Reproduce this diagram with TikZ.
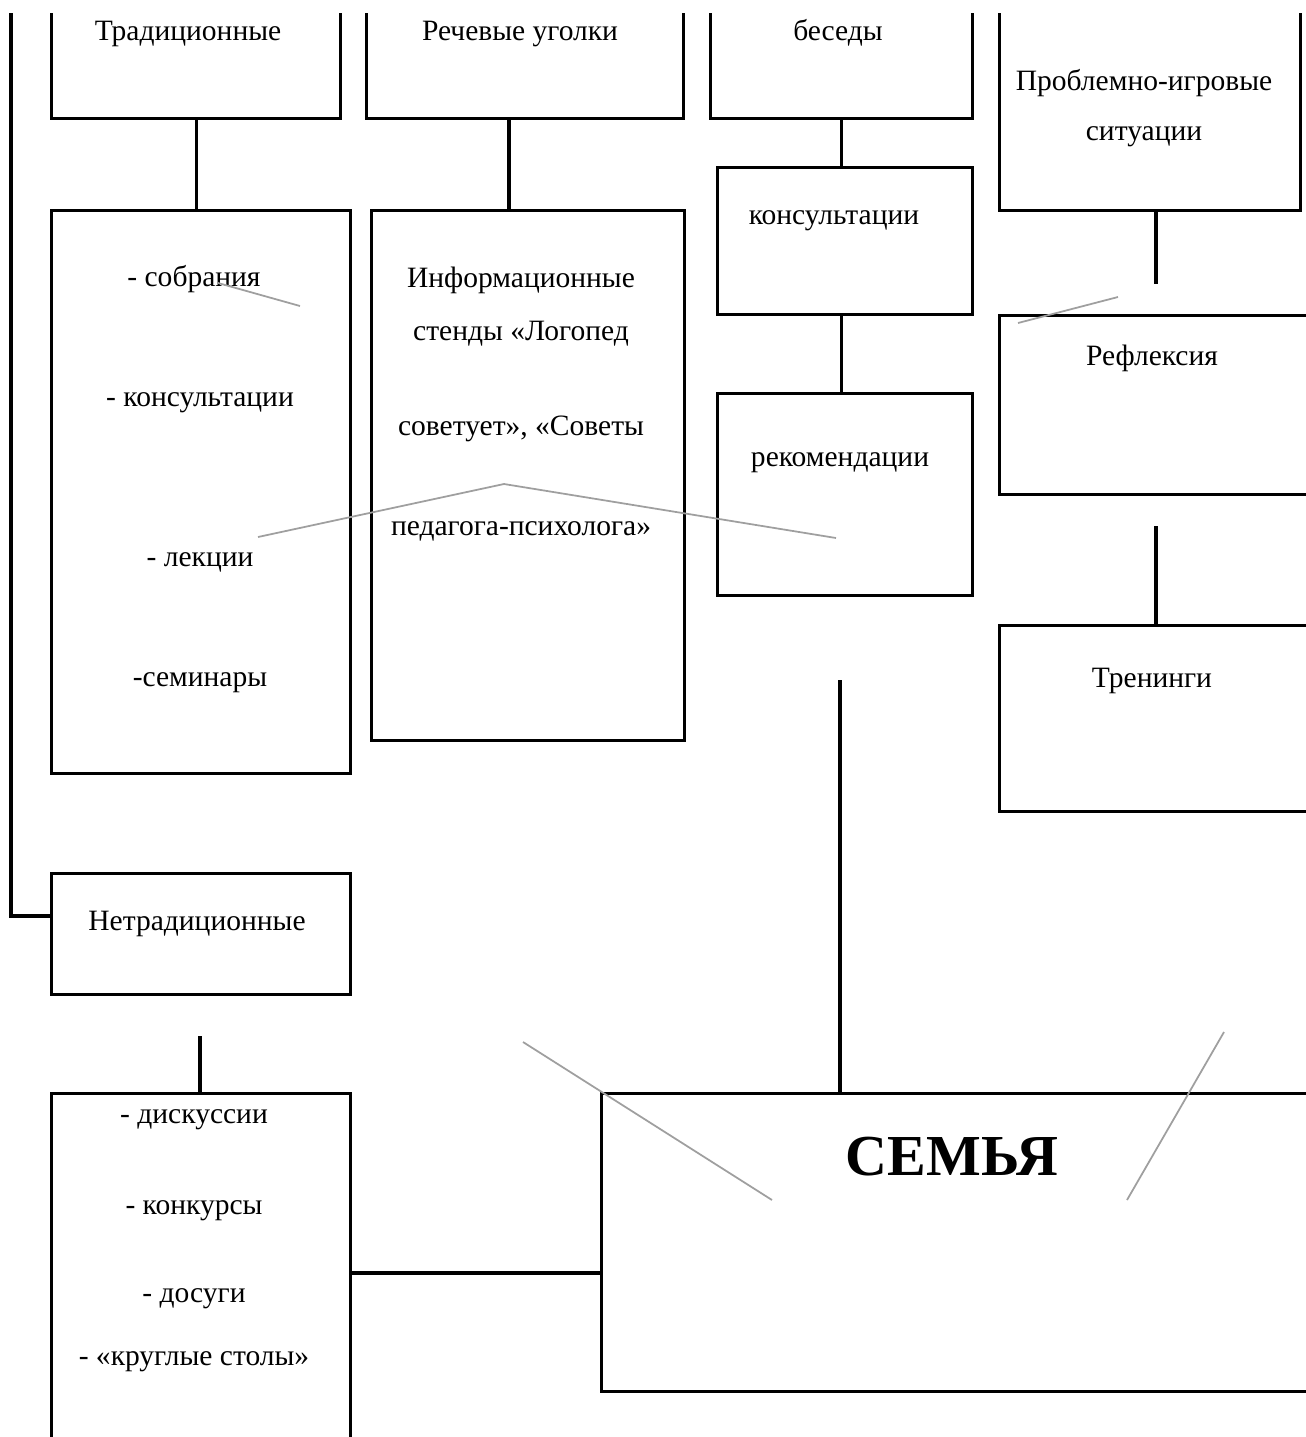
\documentclass[tikz,border=0pt]{standalone}
\usepackage{fontspec}
\setmainfont{Liberation Serif}
\usepackage{tikz}
\usetikzlibrary{calc}

\begin{document}
\begin{tikzpicture}[box/.style={draw, line width=0.95pt, inner sep=0pt, anchor=south west},
    conn/.style={line width=0.95pt},
    stray/.style={gray!75, line width=0.5pt},
    every node/.style={font=\fontsize{8.4}{10}\selectfont}]
    \useasboundingbox (0,0) rectangle (13.06,-14.37);
    \clip (0,-0.13) rectangle (13.06,-14.37); % the page edges cut the boxes

    % left column
    \node[box, minimum width=2.89cm, minimum height=1.40cm] (trad) at (0.50,-1.20) {};
    \node[box, minimum width=2.99cm, minimum height=5.63cm] (tradlist) at (0.50,-7.75) {};
    \node[box, minimum width=2.99cm, minimum height=1.21cm] (netrad) at (0.50,-9.96) {};
    \node[box, minimum width=2.99cm, minimum height=3.70cm] (netradlist) at (0.50,-14.65) {};
    % second column
    \node[box, minimum width=3.17cm, minimum height=1.40cm] (corner) at (3.65,-1.20) {};
    \node[box, minimum width=3.13cm, minimum height=5.30cm] (stands) at (3.70,-7.42) {};
    % third column
    \node[box, minimum width=2.62cm, minimum height=1.40cm] (talks) at (7.09,-1.20) {};
    \node[box, minimum width=2.55cm, minimum height=1.47cm] (consult) at (7.16,-3.16) {};
    \node[box, minimum width=2.55cm, minimum height=2.02cm] (advice) at (7.16,-5.97) {};
    % right column
    \node[box, minimum width=3.01cm, minimum height=2.32cm] (games) at (9.98,-2.12) {};
    \node[box, minimum width=3.40cm, minimum height=1.79cm] (reflex) at (9.98,-4.96) {};
    \node[box, minimum width=3.40cm, minimum height=1.86cm] (training) at (9.98,-8.13) {};
    % family
    \node[box, minimum width=7.40cm, minimum height=2.98cm] (family) at (6.00,-13.93) {};

    % texts
    \node[anchor=base] (tradtxt) at (1.88,-0.40) {Традиционные};
    \node[anchor=base] (listA) at (1.94,-2.86) {- собрания};
    \node[anchor=base] (listB) at (2.00,-4.06) {- консультации};
    \node[anchor=base] (listC) at (2.00,-5.66) {- лекции};
    \node[anchor=base] (listD) at (2.00,-6.86) {-семинары};
    \node[anchor=base] (cornertxt) at (5.20,-0.40) {Речевые уголки};
    \node[anchor=base] (standA) at (5.21,-2.87) {Информационные};
    \node[anchor=base] (standB) at (5.21,-3.40) {стенды «Логопед};
    \node[anchor=base] (standC) at (5.21,-4.35) {советует», «Советы};
    \node[anchor=base] (standD) at (5.21,-5.35) {педагога-психолога»};
    \node[anchor=base] (talkstxt) at (8.38,-0.40) {беседы};
    \node[anchor=base] (consulttxt) at (8.34,-2.24) {консультации};
    \node[anchor=base] (advicetxt) at (8.40,-4.66) {рекомендации};
    \node[anchor=base] (gamesA) at (11.44,-0.90) {Проблемно-игровые};
    \node[anchor=base] (gamesB) at (11.44,-1.40) {ситуации};
    \node[anchor=base] (reflextxt) at (11.52,-3.65) {Рефлексия};
    \node[anchor=base] (trainingtxt) at (11.52,-6.87) {Тренинги};
    \node[anchor=base] (netradtxt) at (1.97,-9.30) {Нетрадиционные};
    \node[anchor=base] (otherA) at (1.94,-11.23) {- дискуссии};
    \node[anchor=base] (otherB) at (1.94,-12.14) {- конкурсы};
    \node[anchor=base] (otherC) at (1.94,-13.02) {- досуги};
    \node[anchor=base] (otherD) at (1.94,-13.65) {- «круглые столы»};
    \node[anchor=base, font=\fontsize{16.5}{18}\selectfont\bfseries] (familytxt) at (9.52,-11.75) {СЕМЬЯ};

    % free ends of the links
    \coordinate (lefttop) at (0.11,-0.13);
    \coordinate (leftjoin) at (0.50,-9.16);
    \coordinate (cornerout) at (5.09,-1.20);
    \coordinate (familyin) at (8.40,-6.80);
    \coordinate (gamesout) at (11.56,-2.12);
    \coordinate (reflexin) at (11.56,-2.84);
    \coordinate (reflexout) at (11.56,-5.26);
    \coordinate (netradout) at (2.00,-10.36);
    \coordinate (sidelink) at (3.49,-12.73);

    % links
    \draw[conn] (lefttop) -- (lefttop |- leftjoin) -- (leftjoin);
    \draw[conn] (trad.south) -- (trad.south |- tradlist.north);
    \draw[conn] (cornerout) -- (cornerout |- stands.north);
    \draw[conn] (talks.south) -- (talks.south |- consult.north);
    \draw[conn] (talks.south |- consult.south) -- (talks.south |- advice.north);
    \draw[conn] (familyin) -- (familyin |- family.north);
    \draw[conn] (gamesout) -- (reflexin);
    \draw[conn] (reflexout) -- (reflexout |- training.north);
    \draw[conn] (netradout) -- (netradout |- netradlist.north);
    \draw[conn] (sidelink) -- (sidelink -| family.west);

    % stray grey strokes
    \draw[stray] (2.18,-2.83) -- (3.00,-3.06);
    \draw[stray] (2.58,-5.37) -- (5.04,-4.84) -- (8.36,-5.38);
    \draw[stray] (10.18,-3.23) -- (11.18,-2.97);
    \draw[stray] (5.23,-10.42) -- (7.72,-12.00);
    \draw[stray] (12.24,-10.32) -- (11.27,-12.00);
\end{tikzpicture}
\end{document}
